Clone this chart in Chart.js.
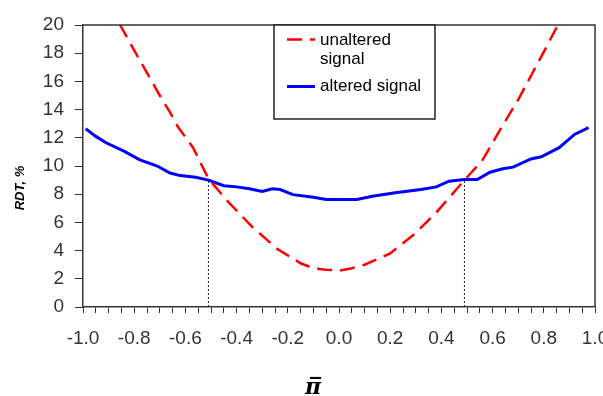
<!DOCTYPE html>
<html>
<head>
<meta charset="utf-8">
<script src="https://cdn.jsdelivr.net/npm/chart.js@4.4.0/dist/chart.umd.min.js"></script>
<style>
body { margin: 0; background: #fff; }
</style>
</head>
<body>
<canvas id="myChart" width="603" height="396"></canvas>
<script>
// unaltered signal (red dashed)
var xRed = [-0.90, -0.855, -0.80, -0.75, -0.70, -0.66, -0.63, -0.57, -0.51, -0.43, -0.34, -0.24, -0.15, -0.10, -0.05, 0.0, 0.05, 0.10, 0.20, 0.29, 0.38, 0.49, 0.56, 0.64, 0.70, 0.75, 0.80, 0.855, 0.90];
var yRed = [21.5, 20.0, 18.2, 16.6, 15.0, 13.8, 12.8, 11.3, 9.1, 7.4, 5.7, 4.1, 3.1, 2.75, 2.65, 2.58, 2.75, 3.0, 3.8, 5.1, 6.7, 9.0, 10.4, 12.9, 14.7, 16.4, 18.1, 20.0, 21.5];

// altered signal (blue)
var xBlue = [-0.99, -0.95, -0.91, -0.84, -0.78, -0.71, -0.66, -0.62, -0.56, -0.51, -0.45, -0.40, -0.35, -0.30, -0.26, -0.23, -0.18, -0.10, -0.05, 0.07, 0.13, 0.22, 0.32, 0.38, 0.43, 0.49, 0.54, 0.59, 0.64, 0.68, 0.75, 0.79, 0.86, 0.92, 0.975];
var yBlue = [12.65, 12.1, 11.65, 11.05, 10.45, 10.0, 9.5, 9.32, 9.2, 9.0, 8.6, 8.52, 8.38, 8.2, 8.38, 8.33, 7.97, 7.78, 7.62, 7.62, 7.85, 8.1, 8.33, 8.52, 8.92, 9.04, 9.04, 9.56, 9.8, 9.92, 10.5, 10.65, 11.3, 12.24, 12.72];

// crossing points (dotted drop lines)
var crossX = [-0.51, 0.49];
var crossY = [9.0, 9.0];

var seriesNames = ['unaltered signal', 'altered signal'];
var xTitle = 'π\u0305';
var yTitle = 'RDT, %';

function pts(xs, ys) {
	return xs.map(function (x, i) { return { x: x, y: ys[i] }; });
}

var ctx = document.getElementById('myChart').getContext('2d');

var datasets = [{
	label: seriesNames[0],
	data: pts(xRed, yRed),
	borderColor: '#ff0000',
	borderWidth: 2.5,
	borderDash: [15, 8],
	pointRadius: 0
}, {
	label: seriesNames[1],
	data: pts(xBlue, yBlue),
	borderColor: '#0000ff',
	borderWidth: 3,
	pointRadius: 0
}];

crossX.forEach(function (cx, i) {
	datasets.push({
		label: 'drop' + i,
		data: [{ x: cx, y: 0 }, { x: cx, y: crossY[i] }],
		borderColor: '#222',
		borderWidth: 1,
		borderDash: [2, 2],
		pointRadius: 0
	});
});

// top/right frame, legend box and axis titles
var extras = {
	id: 'extras',
	afterDraw: function (chart) {
		var c = chart.ctx, a = chart.chartArea;
		c.save();
		c.strokeStyle = '#333';
		c.lineWidth = 1.5;
		c.beginPath();
		c.moveTo(a.left, a.top);
		c.lineTo(a.right, a.top);
		c.lineTo(a.right, a.bottom);
		c.stroke();

		// legend
		c.fillStyle = '#fff';
		c.fillRect(274, 25, 161, 94);
		c.strokeStyle = '#222';
		c.lineWidth = 1.5;
		c.strokeRect(274, 25, 161, 94);

		var d0 = chart.data.datasets[0], d1 = chart.data.datasets[1];
		c.lineWidth = d0.borderWidth;
		c.strokeStyle = d0.borderColor;
		c.setLineDash(d0.borderDash);
		c.beginPath(); c.moveTo(287, 39.5); c.lineTo(315, 39.5); c.stroke();
		c.setLineDash([]);
		c.lineWidth = d1.borderWidth;
		c.strokeStyle = d1.borderColor;
		c.beginPath(); c.moveTo(287, 86.5); c.lineTo(315, 86.5); c.stroke();

		c.fillStyle = '#000';
		c.font = '17px Arial';
		c.textAlign = 'left';
		c.textBaseline = 'middle';
		c.fillText('unaltered', 320, 40);
		c.fillText('signal', 320, 59);
		c.fillText(d1.label, 320, 86);

		// y title
		c.save();
		c.translate(20, 188);
		c.rotate(-Math.PI / 2);
		c.font = 'bold italic 13px Arial';
		c.textAlign = 'center';
		c.fillText(yTitle, 0, 0);
		c.restore();

		// x title
		c.font = 'bold italic 22px "DejaVu Serif"';
		c.textAlign = 'center';
		c.textBaseline = 'alphabetic';
		c.fillText(xTitle, 313, 394);
		c.restore();
	}
};

var chart = new Chart(ctx, {
	type: 'line',
	data: { datasets: datasets },
	plugins: [extras],
	options: {
		responsive: false,
		animation: false,
		layout: { padding: { top: 25, right: 8, left: 0, bottom: 0 } },
		plugins: {
			legend: { display: false },
			tooltip: { enabled: false }
		},
		scales: {
			x: {
				type: 'linear',
				min: -1,
				max: 1,
				afterFit: function (s) {
					s.height = 89;
					s.paddingLeft = 0;
					s.paddingRight = 0;
				},
				ticks: {
					stepSize: 0.05,
					autoSkip: false,
					maxRotation: 0,
					padding: 14,
					color: '#333',
					font: { family: 'Arial', size: 19 },
					callback: function (v) {
						var n = Math.round(v * 100);
						return n % 20 === 0 ? (n / 100).toFixed(1) : '';
					}
				},
				grid: { drawOnChartArea: false, drawTicks: true, tickLength: 6, color: '#333' },
				border: { display: true, color: '#333', width: 1.5 }
			},
			y: {
				min: 0,
				max: 20,
				afterFit: function (s) {
					s.width = 83;
					s.paddingTop = 0;
					s.paddingBottom = 0;
				},
				ticks: {
					stepSize: 2,
					padding: 11,
					color: '#333',
					font: { family: 'Arial', size: 19 }
				},
				grid: { drawOnChartArea: false, drawTicks: true, tickLength: 8, color: '#333' },
				border: { display: true, color: '#333', width: 1.5 }
			}
		}
	}
});
</script>
</body>
</html>
